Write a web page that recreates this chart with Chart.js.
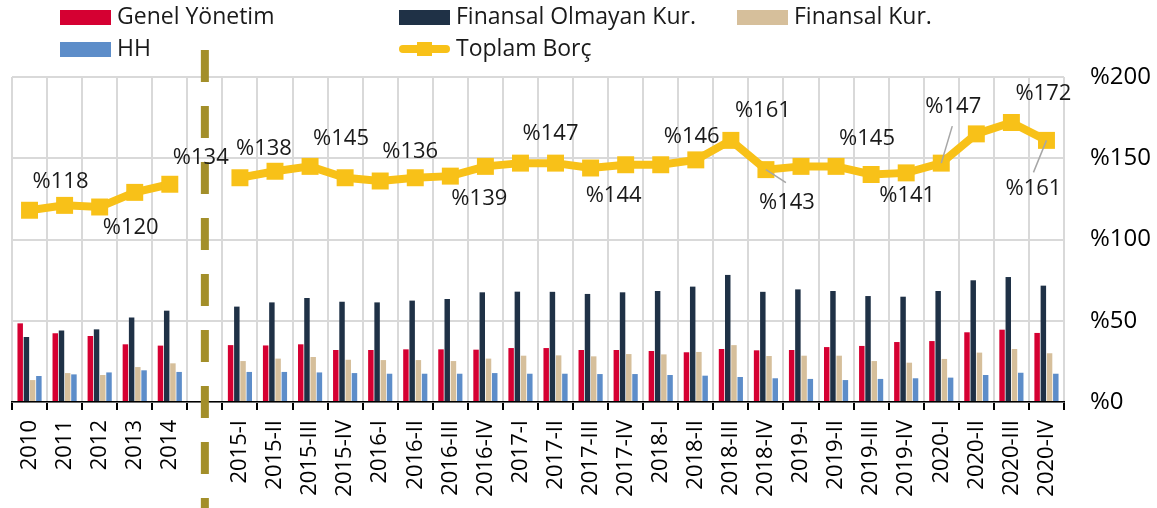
<!DOCTYPE html>
<html>
<head>
<meta charset="utf-8">
<script src="https://cdn.jsdelivr.net/npm/chart.js@4.4.1/dist/chart.umd.min.js"></script>
<style>
html, body { margin: 0; padding: 0; background: #fff; overflow: hidden; }
#wrap { position: relative; width: 1157px; height: 508px; }
</style>
</head>
<body>
<div id="wrap"><canvas id="debt-chart" width="1157" height="508"></canvas></div>
<script>
// categories ('' = empty slot where the dashed separator sits)
const categories = ['2010', '2011', '2012', '2013', '2014', '',
    '2015-I', '2015-II', '2015-III', '2015-IV',
    '2016-I', '2016-II', '2016-III', '2016-IV',
    '2017-I', '2017-II', '2017-III', '2017-IV',
    '2018-I', '2018-II', '2018-III', '2018-IV',
    '2019-I', '2019-II', '2019-III', '2019-IV',
    '2020-I', '2020-II', '2020-III', '2020-IV'];

const genelYonetim = [48.4, 42.3, 40.6, 35.5, 34.7, null, 35.0, 34.8, 35.5, 32.0, 32.0, 32.4, 32.4, 32.2, 33.2, 33.2,
    32.0, 32.0, 31.4, 30.6, 32.6, 31.8, 32.0, 33.8, 34.5, 36.9, 37.5, 42.9, 44.5, 42.5];
const finansalOlmayan = [40.0, 44.0, 44.7, 52.0, 56.2, null, 58.7, 61.3, 64.0, 61.7, 61.3, 62.4, 63.4, 67.5, 67.9, 67.8,
    66.5, 67.5, 68.3, 71.0, 78.2, 67.8, 69.3, 68.3, 65.2, 64.8, 68.3, 74.9, 76.9, 71.6];
const finansalKur = [13.5, 17.8, 16.6, 21.5, 23.8, null, 25.2, 26.7, 27.7, 26.0, 25.8, 25.8, 25.2, 26.7, 28.5, 28.7,
    28.1, 29.5, 29.3, 30.8, 35.0, 28.3, 28.5, 28.5, 25.2, 24.2, 26.5, 30.4, 32.6, 30.0];
const hanehalki = [16.0, 17.0, 18.2, 19.5, 18.5, null, 18.5, 18.5, 18.2, 17.8, 17.4, 17.4, 17.4, 17.8, 17.4, 17.4,
    17.2, 17.2, 16.6, 16.2, 15.4, 14.6, 14.2, 13.5, 14.2, 14.6, 15.0, 16.6, 18.0, 17.4];
const toplamBorc = [118, 121, 120, 129, 134, null, 138, 142, 145, 138, 136, 138, 139, 145, 147, 147,
    144, 146, 146, 149, 161, 143, 145, 145, 140, 141, 147, 165, 172, 161];

const yTicks = [0, 50, 100, 150, 200];

// which points get a value label, and where it sits relative to the point
const labelSpots = [
    {i: 0, dx: 31, dy: -29}, {i: 2, dx: 31, dy: 21}, {i: 4, dx: 31, dy: -27},
    {i: 6, dx: 24, dy: -29}, {i: 8, dx: 31, dy: -28}, {i: 10, dx: 30, dy: -29},
    {i: 12, dx: 29, dy: 23}, {i: 15, dx: -5, dy: -29}, {i: 16, dx: 23, dy: 28},
    {i: 18, dx: 31, dy: -28}, {i: 20, dx: 32, dy: -30},
    {i: 21, dx: 21, dy: 33, lx: 20, ly: 13},
    {i: 23, dx: 31, dy: -28}, {i: 25, dx: 1, dy: 23},
    {i: 26, dx: 12, dy: -56, lx: 11, ly: -37},
    {i: 28, dx: 32, dy: -29},
    {i: 29, dx: -13, dy: 48, lx: -13, ly: 32}
];

const FONT = "'Open Sans', sans-serif";
Chart.defaults.font.family = FONT;
Chart.defaults.color = '#000';

// dashed separator between yearly and quarterly data
const separator = {
    id: 'separator',
    afterDatasetsDraw(chart) {
        const x = chart.scales.x.getPixelForValue(5);
        const ctx = chart.ctx;
        ctx.save();
        ctx.strokeStyle = '#a38f2a';
        ctx.lineWidth = 8;
        ctx.setLineDash([32, 24]);
        ctx.beginPath();
        ctx.moveTo(x, 50);
        ctx.lineTo(x, 508);
        ctx.stroke();
        ctx.restore();
    }
};

// value labels on the Toplam Borç line
const valueLabels = {
    id: 'valueLabels',
    afterDraw(chart) {
        const meta = chart.getDatasetMeta(4);
        const ctx = chart.ctx;
        ctx.save();
        labelSpots.forEach(function (s) {
            const pt = meta.data[s.i];
            if (s.lx !== undefined) {
                ctx.strokeStyle = '#a6a6a6';
                ctx.lineWidth = 1.5;
                ctx.beginPath();
                ctx.moveTo(pt.x, pt.y);
                ctx.lineTo(pt.x + s.lx, pt.y + s.ly);
                ctx.stroke();
            }
            ctx.fillStyle = '#1a1a1a';
            ctx.font = '22px ' + FONT;
            ctx.textAlign = 'center';
            ctx.textBaseline = 'middle';
            ctx.fillText('%' + Math.round(toplamBorc[s.i]), pt.x + s.dx, pt.y + s.dy);
        });
        ctx.restore();
    }
};

// legend in a fixed 3-column grid
const gridLegend = {
    id: 'gridLegend',
    afterDraw(chart) {
        const cols = [60, 399, 737];
        const rows = [17, 49];
        const ctx = chart.ctx;
        ctx.save();
        ctx.font = '23px ' + FONT;
        ctx.textBaseline = 'middle';
        ctx.textAlign = 'left';
        chart.data.datasets.forEach(function (ds, k) {
            const x = cols[k % 3];
            const y = rows[Math.floor(k / 3)];
            if (ds.type === 'line') {
                ctx.strokeStyle = ds.borderColor;
                ctx.lineWidth = 8;
                ctx.lineCap = 'round';
                ctx.beginPath();
                ctx.moveTo(x + 4, y);
                ctx.lineTo(x + 47, y);
                ctx.stroke();
                ctx.fillStyle = ds.borderColor;
                ctx.fillRect(x + 18, y - 7, 15, 14);
            } else {
                ctx.fillStyle = ds.backgroundColor;
                ctx.fillRect(x, y - 7, 51, 15);
            }
            ctx.fillStyle = '#1a1a1a';
            ctx.fillText(ds.label, x + 57, y);
        });
        ctx.restore();
    }
};

const ctx = document.getElementById('debt-chart').getContext('2d');
var chart = new Chart(ctx, {
    type: 'bar',
    data: {
        labels: categories,
        datasets: [
            {label: 'Genel Yönetim', data: genelYonetim, backgroundColor: '#d50032', order: 1},
            {label: 'Finansal Olmayan Kur.', data: finansalOlmayan, backgroundColor: '#1f3146', order: 1},
            {label: 'Finansal Kur.', data: finansalKur, backgroundColor: '#d6bf9b', order: 1},
            {label: 'HH', data: hanehalki, backgroundColor: '#5d8dc9', order: 1},
            {
                type: 'line',
                label: 'Toplam Borç',
                data: toplamBorc,
                borderColor: '#f8c118',
                backgroundColor: '#f8c118',
                borderWidth: 8,
                pointStyle: 'rect',
                pointRadius: 12,
                pointBorderWidth: 0,
                pointBackgroundColor: '#f8c118',
                spanGaps: false,
                order: 0
            }
        ]
    },
    plugins: [separator, valueLabels, gridLegend],
    options: {
        responsive: false,
        animation: false,
        layout: {padding: {top: 77, left: 8, right: 0, bottom: 0}},
        datasets: {
            bar: {categoryPercentage: 0.71, barPercentage: 0.88}
        },
        plugins: {
            legend: {display: false},
            tooltip: {enabled: false}
        },
        scales: {
            x: {
                offset: true,
                grid: {
                    offset: true,
                    color: '#d9d9d9',
                    lineWidth: 2,
                    tickColor: '#000',
                    tickLength: 8
                },
                border: {color: '#000', width: 1.5},
                ticks: {
                    minRotation: 90,
                    maxRotation: 90,
                    autoSkip: false,
                    padding: 10,
                    color: '#000',
                    font: {size: 22}
                },
                afterFit: function (scale) { scale.height = 106; }
            },
            y: {
                position: 'right',
                min: 0,
                max: 200,
                afterBuildTicks: function (scale) {
                    scale.ticks = yTicks.map(function (v) { return {value: v}; });
                },
                grid: {color: '#d9d9d9', lineWidth: 2, drawTicks: false},
                border: {display: false},
                ticks: {
                    padding: 26,
                    color: '#000',
                    font: {size: 24},
                    callback: function (value) { return '%' + value; }
                },
                afterFit: function (scale) { scale.width = 93; }
            }
        }
    }
});
</script>
</body>
</html>
